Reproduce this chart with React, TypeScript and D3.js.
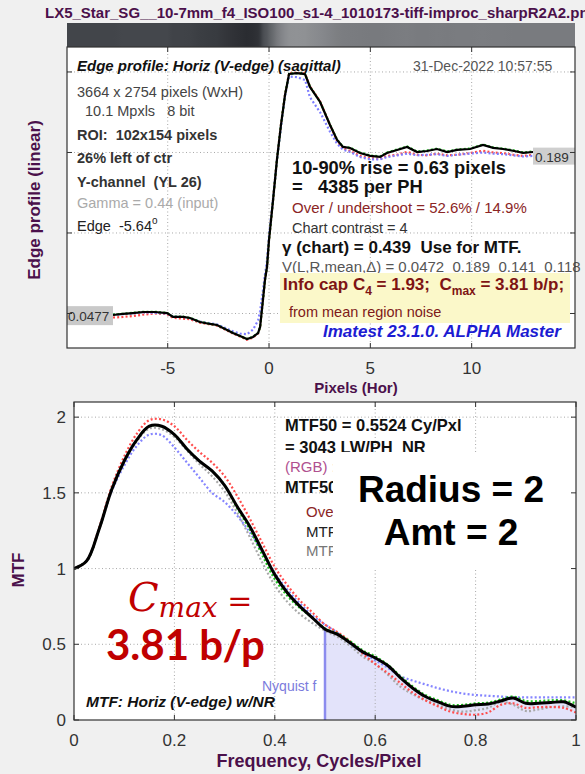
import React from 'react';
import * as d3 from 'd3';

// ---------- Edge profile (top plot) ----------
const edgeX = [-7.70,-7.21,-6.71,-6.22,-5.63,-5.03,-4.74,-4.24,-3.90,-3.41,-2.91,-2.57,-2.17,-1.78,-1.43,-1.09,-0.79,-0.54,-0.44,-0.30,-0.20,-0.10,0.00,0.20,0.39,0.59,0.79,0.99,1.38,1.78,2.02,2.52,3.01,3.36,3.65,4.00,4.49,4.99,5.48,5.82,6.32,6.81,7.31,7.80,8.29,8.79,9.28,9.92,10.56,11.06,11.55,12.04,12.54,13.03];
const edgeBlack = [0.0487,0.0496,0.0504,0.0513,0.0513,0.0504,0.0470,0.0470,0.0461,0.0426,0.0409,0.0400,0.0365,0.0330,0.0304,0.0278,0.0296,0.0330,0.0383,0.0617,0.0791,0.0904,0.1139,0.1487,0.1835,0.2139,0.2400,0.2583,0.2590,0.2580,0.2470,0.2339,0.2139,0.2009,0.1948,0.1939,0.1896,0.1870,0.1861,0.1896,0.1922,0.1948,0.1904,0.1913,0.1930,0.1904,0.1922,0.1930,0.1965,0.1940,0.1930,0.1915,0.1896,0.1904];
const edgeRed = [0.0465,0.0470,0.0478,0.0490,0.0500,0.0495,0.0462,0.0455,0.0450,0.0420,0.0405,0.0395,0.0360,0.0325,0.0300,0.0272,0.0290,0.0328,0.0385,0.0620,0.0795,0.0905,0.1140,0.1490,0.1840,0.2145,0.2405,0.2590,0.2595,0.2585,0.2475,0.2345,0.2140,0.2000,0.1935,0.1915,0.1870,0.1850,0.1845,0.1870,0.1880,0.1905,0.1880,0.1875,0.1890,0.1875,0.1880,0.1895,0.1915,0.1900,0.1895,0.1880,0.1870,0.1880];
const edgeBlue = [0.0490,0.0495,0.0500,0.0510,0.0505,0.0500,0.0475,0.0470,0.0460,0.0430,0.0415,0.0405,0.0375,0.0345,0.0325,0.0320,0.0360,0.0440,0.0520,0.0700,0.0840,0.0960,0.1180,0.1500,0.1830,0.2120,0.2390,0.2560,0.2555,0.2530,0.2380,0.2250,0.2080,0.1975,0.1925,0.1905,0.1860,0.1840,0.1840,0.1860,0.1875,0.1890,0.1875,0.1880,0.1885,0.1870,0.1880,0.1890,0.1900,0.1890,0.1885,0.1875,0.1865,0.1870];
const edgeGreen = [0.0490,0.0498,0.0506,0.0515,0.0515,0.0506,0.0472,0.0472,0.0462,0.0428,0.0410,0.0400,0.0366,0.0331,0.0305,0.0279,0.0297,0.0331,0.0384,0.0618,0.0792,0.0905,0.1140,0.1488,0.1836,0.2140,0.2401,0.2584,0.2591,0.2581,0.2472,0.2341,0.2141,0.2011,0.1950,0.1942,0.1900,0.1874,0.1866,0.1900,0.1926,0.1952,0.1908,0.1917,0.1934,0.1908,0.1926,0.1934,0.1969,0.1944,0.1934,0.1919,0.1900,0.1908];
const edgeTicksX = [-5, 0, 5, 10];
const edgeTicksY = [0.05, 0.12, 0.19, 0.26];
const edgeLeftLabel = '0.0477';
const edgeRightLabel = '0.189';

// ---------- MTF (bottom plot) ----------
const mtfFreq = [0,0.025,0.05,0.075,0.1,0.125,0.15,0.175,0.2,0.225,0.25,0.275,0.3,0.325,0.35,0.375,0.4,0.425,0.45,0.475,0.5,0.525,0.55,0.575,0.6,0.625,0.65,0.675,0.7,0.725,0.75,0.775,0.8,0.825,0.85,0.875,0.9,0.925,0.95,0.975,1.0];
const mtfBlack = [1.00,1.05,1.26,1.52,1.71,1.85,1.94,1.94,1.885,1.79,1.71,1.645,1.55,1.41,1.28,1.12,0.96,0.84,0.75,0.675,0.60,0.565,0.51,0.45,0.41,0.36,0.28,0.21,0.155,0.12,0.09,0.09,0.10,0.105,0.125,0.145,0.11,0.11,0.115,0.12,0.085];
const mtfRed = [1.00,1.05,1.27,1.54,1.74,1.89,1.98,1.985,1.94,1.85,1.77,1.70,1.61,1.48,1.33,1.17,1.01,0.89,0.79,0.71,0.63,0.58,0.52,0.44,0.37,0.31,0.245,0.18,0.13,0.09,0.055,0.04,0.035,0.05,0.10,0.11,0.08,0.085,0.086,0.08,0.05];
const mtfBlue = [1.00,1.05,1.26,1.51,1.68,1.81,1.885,1.88,1.80,1.70,1.60,1.50,1.44,1.35,1.24,1.11,0.97,0.86,0.77,0.69,0.63,0.575,0.505,0.445,0.395,0.345,0.29,0.26,0.235,0.21,0.19,0.175,0.165,0.16,0.155,0.15,0.15,0.15,0.15,0.15,0.15];
const mtfGray = [1.00,1.05,1.26,1.52,1.70,1.84,1.925,1.92,1.87,1.78,1.69,1.61,1.51,1.37,1.21,1.04,0.89,0.78,0.70,0.64,0.59,0.55,0.49,0.42,0.37,0.30,0.22,0.17,0.13,0.10,0.07,0.055,0.065,0.08,0.12,0.10,0.06,0.07,0.085,0.09,0.085];
const mtfGreen = [1.00,1.05,1.26,1.52,1.71,1.85,1.94,1.94,1.885,1.79,1.71,1.645,1.55,1.40,1.26,1.09,0.93,0.82,0.74,0.675,0.605,0.57,0.52,0.46,0.42,0.365,0.29,0.22,0.165,0.13,0.10,0.10,0.11,0.115,0.135,0.155,0.125,0.125,0.13,0.13,0.11];
const mtfTicksX = [0, 0.2, 0.4, 0.6, 0.8, 1];
const mtfTicksY = [0, 0.5, 1, 1.5, 2];
const nyquistF = 0.5;

const SANS = '"Liberation Sans", Arial, sans-serif';
const PURPLE = '#4b104b';
const DARKRED = '#7e1414';

export default function App() {
  const W = 585, H = 774;
  const tL = 67, tR = 575, tT = 47, tB = 348;
  const bL = 74, bR = 576, bT = 402, bB = 720;

  const xE = d3.scaleLinear().domain([-9.97, 15.1]).range([tL, tR]);
  const yE = d3.scaleLinear().domain([0.02, 0.2817]).range([tB, tT]);
  const xM = d3.scaleLinear().domain([0, 1]).range([bL, bR]);
  const yM = d3.scaleLinear().domain([0, 2.1]).range([bB, bT]);

  const edgePath = (vals: number[]) =>
    d3.line<number>().x((_, i) => xE(edgeX[i])).y((d) => yE(d))(vals) || '';
  const mtfCurve = d3.curveCatmullRom.alpha(0.5);
  const mtfPath = (vals: number[]) =>
    d3.line<number>().x((_, i) => xM(mtfFreq[i])).y((d) => yM(d)).curve(mtfCurve)(vals) || '';

  const fillIdx = mtfFreq.map((f, i) => i).filter((i) => mtfFreq[i] >= nyquistF);
  const fillPath = d3.area<number>()
    .x((i) => xM(mtfFreq[i]))
    .y0(yM(0))
    .y1((i) => yM(mtfBlack[i]))
    .curve(mtfCurve)(fillIdx) || '';
  const nyqVal = mtfBlack[mtfFreq.indexOf(nyquistF)];

  const shade = d3.scaleLinear<string>()
    .domain([0.028, 0.05, 0.19, 0.26])
    .range(['#2a2c31', '#44474c', '#797b7f', '#909295'])
    .clamp(true);
  const stops = edgeX.map((x, i) => ({ off: (xE(x) - tL) / (tR - tL), c: shade(edgeBlack[i]) }));

  const grid = { stroke: '#a8a8a8', strokeWidth: 1, strokeDasharray: '1 2.5' };
  const dotted = (c: string) => ({ fill: 'none', stroke: c, strokeWidth: 2.2, strokeDasharray: '2 2.2' });
  const pre = { whiteSpace: 'pre' as const };

  return (
    <svg width={W} height={H} viewBox={`0 0 ${W} ${H}`}
      style={{ position: 'absolute', left: 0, top: 0, display: 'block' }}
      fontFamily={SANS}>
      <defs>
        <linearGradient id="edgeGrad" x1="0" x2="1" y1="0" y2="0">
          <stop offset={0} stopColor={shade(edgeBlack[0])} />
          {stops.map((s, i) => <stop key={i} offset={s.off} stopColor={s.c} />)}
          <stop offset={1} stopColor={shade(edgeBlack[edgeBlack.length - 1])} />
        </linearGradient>
        <clipPath id="clipTop"><rect x={tL} y={tT} width={tR - tL} height={tB - tT} /></clipPath>
        <clipPath id="clipBot"><rect x={bL} y={bT} width={bR - bL} height={bB - bT} /></clipPath>
      </defs>
      <rect x={0} y={0} width={W} height={H} fill="#f0f0f0" />

      {/* Title */}
      <text x={45} y={18} fontSize={15} fontWeight="bold" fill={PURPLE}>
        LX5_Star_SG__10-7mm_f4_ISO100_s1-4_1010173-tiff-improc_sharpR2A2.png
      </text>

      {/* Edge image strip */}
      <rect x={tL} y={23} width={tR - tL} height={24} fill="url(#edgeGrad)" />

      {/* ===== TOP PLOT ===== */}
      <rect x={tL} y={tT} width={tR - tL} height={tB - tT} fill="#fff" />
      {edgeTicksX.map((t) => <line key={'gx' + t} x1={xE(t)} x2={xE(t)} y1={tT} y2={tB} {...grid} />)}
      {edgeTicksY.map((t) => <line key={'gy' + t} x1={tL} x2={tR} y1={yE(t)} y2={yE(t)} {...grid} />)}

      {/* left-side info text */}
      <text x={77} y={71} fontSize={15} fontWeight="bold" fontStyle="italic" fill="#111">Edge profile: Horiz (V-edge) (sagittal)</text>
      <text x={413} y={71} fontSize={14} fill="#555">31-Dec-2022 10:57:55</text>
      <text x={77} y={97} fontSize={14.5} fill="#444" style={pre}>3664 x 2754 pixels (WxH)</text>
      <text x={85} y={116} fontSize={14.5} fill="#444" style={pre}>10.1 Mpxls   8 bit</text>
      <text x={77} y={140} fontSize={14.5} fontWeight="bold" fill="#333" style={pre}>ROI:  102x154 pixels</text>
      <text x={77} y={163} fontSize={14.5} fontWeight="bold" fill="#333">26% left of ctr</text>
      <text x={77} y={187} fontSize={14.5} fontWeight="bold" fill="#333" style={pre}>Y-channel  (YL 26)</text>
      <text x={77} y={208} fontSize={14.5} fill="#aaa">Gamma = 0.44 (input)</text>
      <text x={77} y={231} fontSize={14.5} fill="#222" style={pre}>Edge  -5.64<tspan dy={-7} fontSize={10}>o</tspan></text>

      {/* right-side info text */}
      <text x={292} y={174} fontSize={18.3} fontWeight="bold" fill="#111">10-90% rise = 0.63 pixels</text>
      <text x={292} y={193} fontSize={18.3} fontWeight="bold" fill="#111" style={pre}>=   4385 per PH</text>
      <text x={292} y={213} fontSize={15} fill="#8b2525">Over / undershoot = 52.6% / 14.9%</text>
      <text x={292} y={233} fontSize={14.5} fill="#333">Chart contrast = 4</text>
      <text x={282} y={253} fontSize={17} fontWeight="bold" fill="#111" style={pre}>γ (chart) = 0.439  Use for MTF.</text>
      <text x={282} y={272} fontSize={15} fill="#555" style={pre}>V(L,R,mean,Δ) = 0.0472  0.189  0.141  0.118</text>
      <rect x={280} y={273} width={290} height={50} fill="#fbf8c9" />
      <text x={283} y={290} fontSize={17} fontWeight="bold" fill={DARKRED} style={pre}>
        Info cap C<tspan dy={5} fontSize={12}>4</tspan><tspan dy={-5}> = 1.93;  C</tspan><tspan dy={5} fontSize={12}>max</tspan><tspan dy={-5}> = 3.81 b/p;</tspan>
      </text>
      <text x={289} y={317} fontSize={14.5} fill="#7e1a1a">from mean region noise</text>
      <text x={323} y={337} fontSize={17} fontWeight="bold" fontStyle="italic" fill="#1c1cd2">Imatest 23.1.0. ALPHA Master</text>

      {/* curves */}
      <g clipPath="url(#clipTop)">
        <path d={edgePath(edgeRed)} {...dotted('#ff4a4a')} />
        <path d={edgePath(edgeBlue)} {...dotted('#7d7dff')} />
        <path d={edgePath(edgeGreen)} {...dotted('#20c020')} />
        <path d={edgePath(edgeBlack)} fill="none" stroke="#000" strokeWidth={2.2} />
      </g>

      {/* level labels */}
      <rect x={tL} y={yE(0.0477) - 10} width={46} height={19} fill="#c9c9c9" />
      <text x={tL + 1} y={yE(0.0477) + 5} fontSize={13.5} fill="#333">{edgeLeftLabel}</text>
      <rect x={533} y={yE(0.189) - 6} width={tR - 533} height={17} fill="#cfcfcf" />
      <text x={535} y={yE(0.189) + 8} fontSize={13.5} fill="#333">{edgeRightLabel}</text>

      {/* axes */}
      <rect x={tL} y={tT} width={tR - tL} height={tB - tT} fill="none" stroke="#333" strokeWidth={1.2} />
      {edgeTicksX.map((t) => (
        <g key={'tx' + t}>
          <line x1={xE(t)} x2={xE(t)} y1={tB} y2={tB - 5} stroke="#333" />
          <line x1={xE(t)} x2={xE(t)} y1={tT} y2={tT + 5} stroke="#333" />
          <text x={xE(t)} y={374} fontSize={17} fill="#333" textAnchor="middle">{t}</text>
        </g>
      ))}
      {edgeTicksY.map((t) => (
        <g key={'ty' + t}>
          <line x1={tL} x2={tL + 5} y1={yE(t)} y2={yE(t)} stroke="#333" />
          <line x1={tR} x2={tR - 5} y1={yE(t)} y2={yE(t)} stroke="#333" />
        </g>
      ))}
      <text x={356} y={393} fontSize={15} fontWeight="bold" fill={PURPLE} textAnchor="middle">Pixels (Hor)</text>
      <text transform="translate(40,200) rotate(-90)" fontSize={17} fontWeight="bold" fill={PURPLE} textAnchor="middle">Edge profile (linear)</text>

      {/* ===== BOTTOM PLOT ===== */}
      <rect x={bL} y={bT} width={bR - bL} height={bB - bT} fill="#fff" />
      <path d={fillPath} fill="#e3e3fa" />
      {mtfTicksX.slice(1, -1).map((t) => <line key={'mgx' + t} x1={xM(t)} x2={xM(t)} y1={bT} y2={bB} {...grid} />)}
      {mtfTicksY.slice(1).map((t) => <line key={'mgy' + t} x1={bL} x2={bR} y1={yM(t)} y2={yM(t)} {...grid} />)}
      <line x1={xM(nyquistF)} x2={xM(nyquistF)} y1={yM(0)} y2={yM(nyqVal)} stroke="#8c8cee" strokeWidth={2.5} />

      <text x={285} y={431} fontSize={16.5} fontWeight="bold" fill="#111">MTF50 = 0.5524 Cy/Pxl</text>
      <text x={285} y={453} fontSize={16.5} fontWeight="bold" fill="#111" style={pre}>= 3043 LW/PH  NR</text>
      <text x={285} y={472} fontSize={15} fill="#b0508f">(RGB) :</text>
      <text x={285} y={493} fontSize={16.5} fontWeight="bold" fill="#111">MTF50</text>
      <text x={306} y={517} fontSize={15} fill="#8b2525">Over</text>
      <text x={306} y={537} fontSize={15} fill="#222">MTF</text>
      <text x={306} y={556} fontSize={15} fill="#777">MTF</text>
      <rect x={333} y={452} width={bR - 333} height={118} fill="#fff" />
      <text x={451} y={502} fontSize={37} fontWeight="bold" fill="#000" textAnchor="middle">Radius = 2</text>
      <text x={451} y={545} fontSize={37} fontWeight="bold" fill="#000" textAnchor="middle">Amt = 2</text>

      <g clipPath="url(#clipBot)">
        <path d={mtfPath(mtfGray)} {...dotted('#a8a8a8')} />
        <path d={mtfPath(mtfBlue)} {...dotted('#8585ff')} />
        <path d={mtfPath(mtfRed)} {...dotted('#ff4d4d')} />
        <path d={mtfPath(mtfGreen)} {...dotted('#1fc41f')} />
        <path d={mtfPath(mtfBlack)} fill="none" stroke="#000" strokeWidth={3} />
      </g>

      <text x={128} y={611} fontSize={40} fontStyle="italic" fill="#c00000" fontFamily='"DejaVu Serif", "Liberation Serif", serif'>
        C<tspan dy={6} fontSize={28}>max</tspan><tspan dy={-6} fontStyle="normal" fontSize={30}> =</tspan>
      </text>
      <text x={106} y={660} fontSize={42} fontWeight="bold" fill="#c00000" fontFamily='Lato, "Open Sans", sans-serif'>3.81 b/p</text>
      <text x={262} y={691} fontSize={14} fill="#7b7bdd">Nyquist f</text>
      <text x={86} y={707} fontSize={15.5} fontWeight="bold" fontStyle="italic" fill="#111">MTF: Horiz (V-edge) w/NR</text>

      <rect x={bL} y={bT} width={bR - bL} height={bB - bT} fill="none" stroke="#333" strokeWidth={1.2} />
      {mtfTicksX.map((t) => (
        <g key={'mtx' + t}>
          <line x1={xM(t)} x2={xM(t)} y1={bB} y2={bB - 5} stroke="#333" />
          <line x1={xM(t)} x2={xM(t)} y1={bT} y2={bT + 5} stroke="#333" />
          <text x={xM(t)} y={746} fontSize={17} fill="#333" textAnchor="middle">{t}</text>
        </g>
      ))}
      {mtfTicksY.map((t) => (
        <g key={'mty' + t}>
          <line x1={bL} x2={bL + 5} y1={yM(t)} y2={yM(t)} stroke="#333" />
          <line x1={bR} x2={bR - 5} y1={yM(t)} y2={yM(t)} stroke="#333" />
          <text x={66} y={yM(t) + 6} fontSize={17} fill="#333" textAnchor="end">{t}</text>
        </g>
      ))}
      <text x={319} y={767} fontSize={18} fontWeight="bold" fill={PURPLE} textAnchor="middle">Frequency, Cycles/Pixel</text>
      <text transform="translate(24,570) rotate(-90)" fontSize={17} fontWeight="bold" fill={PURPLE} textAnchor="middle">MTF</text>
    </svg>
  );
}
